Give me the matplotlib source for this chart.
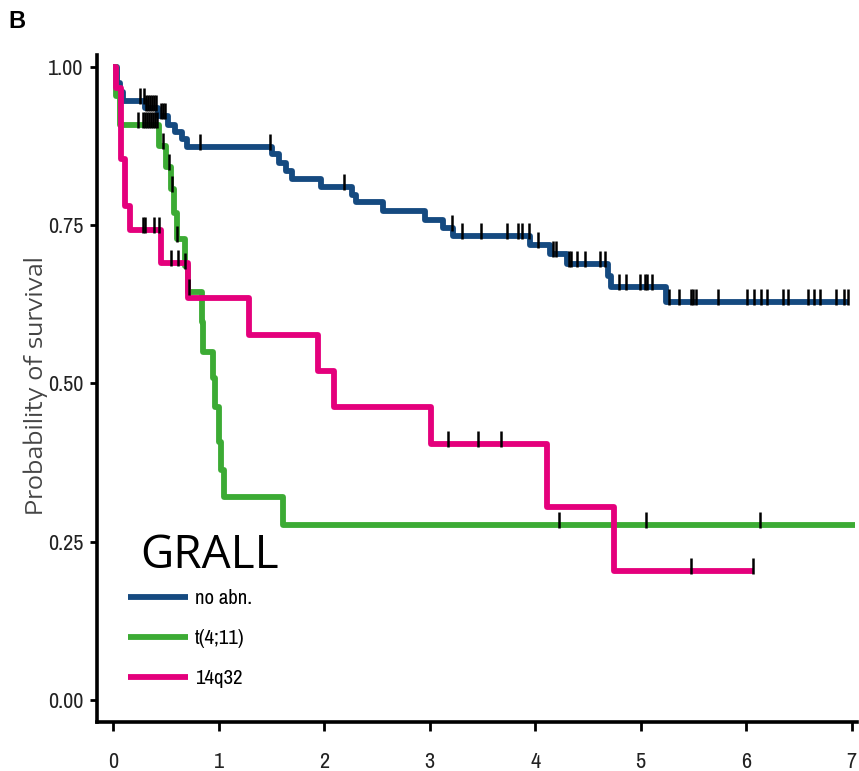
import numpy as np
import matplotlib
matplotlib.use("Agg")
import matplotlib.pyplot as plt
from matplotlib.path import Path

NARROW = ['Archivo Narrow', 'Liberation Sans', 'DejaVu Sans']
plt.rcParams['font.family'] = NARROW

# Kaplan-Meier steps per group: event times (years) and survival after each step
noabn_t = [0, 0.04, 0.07, 0.09, 0.30, 0.43, 0.52, 0.59, 0.65, 0.70, 1.51, 1.57, 1.64, 1.70,
           1.97, 2.26, 2.30, 2.56, 2.96, 3.13, 3.22, 3.95, 4.14, 4.30, 4.69, 4.72, 5.24, 6.97]
noabn_s = [1.0, 0.975, 0.96, 0.946, 0.935, 0.922, 0.908, 0.897, 0.886, 0.874, 0.862, 0.848, 0.836, 0.823,
           0.810, 0.798, 0.786, 0.773, 0.759, 0.746, 0.733, 0.719, 0.705, 0.689, 0.670, 0.652, 0.628, 0.628]
noabn_cens = [0.26, 0.29, 0.31, 0.33, 0.35, 0.37, 0.39, 0.41, 0.45, 0.47, 0.49, 0.82, 1.49, 2.19,
              3.21, 3.31, 3.49, 3.73, 3.84, 3.88, 3.94, 4.03, 4.17, 4.20, 4.32, 4.34, 4.40, 4.47,
              4.61, 4.66, 4.79, 4.86, 4.99, 5.04, 5.06, 5.11, 5.27, 5.36, 5.48, 5.50, 5.52, 5.73,
              6.01, 6.07, 6.14, 6.20, 6.35, 6.40, 6.59, 6.64, 6.70, 6.85, 6.93, 6.96]

t411_t = [0, 0.03, 0.07, 0.44, 0.50, 0.55, 0.58, 0.61, 0.68, 0.71, 0.84, 0.855, 0.95, 0.97,
          1.00, 1.02, 1.05, 1.61, 7.03]
t411_s = [1.0, 0.955, 0.909, 0.875, 0.842, 0.808, 0.770, 0.729, 0.686, 0.644, 0.597, 0.549, 0.508, 0.462,
          0.407, 0.363, 0.320, 0.276, 0.276]
t411_cens = [0.24, 0.28, 0.30, 0.32, 0.34, 0.36, 0.38, 0.40, 0.42, 0.47, 0.53, 0.56, 0.61, 0.68, 0.72,
             4.23, 5.05, 6.13]

q32_t = [0, 0.03, 0.08, 0.11, 0.16, 0.455, 0.71, 1.29, 1.94, 2.09, 3.01, 4.11, 4.75, 6.07]
q32_s = [1.0, 0.967, 0.855, 0.78, 0.743, 0.69, 0.635, 0.577, 0.519, 0.462, 0.405, 0.304, 0.203, 0.203]
q32_cens = [0.28, 0.30, 0.39, 0.44, 0.55, 0.62, 3.17, 3.46, 3.68, 5.48, 6.06]

labels = ['no abn.', 't(4;11)', '14q32']
colors = ['#154a80', '#3cab34', '#e4007c']

x_ticks = [0, 1, 2, 3, 4, 5, 6, 7]
y_ticks = [0.0, 0.25, 0.50, 0.75, 1.00]

# censor mark: short vertical bar sitting mostly above the curve
cens_marker = Path([(0, -0.25), (0, 1.0)], [Path.MOVETO, Path.LINETO])


def surv_at(times, surv, t):
    idx = np.searchsorted(times, t, side='right') - 1
    return np.asarray(surv)[idx]


fig = plt.figure(figsize=(8.59, 7.71), dpi=100)
ax = fig.add_axes([97 / 859, 1 - 722 / 771, (857 - 97) / 859, (722 - 55) / 771])

groups = [(noabn_t, noabn_s, noabn_cens), (t411_t, t411_s, t411_cens), (q32_t, q32_s, q32_cens)]
for (t, s, c), lab, col in zip(groups, labels, colors):
    ax.step(t, s, where='post', color=col, lw=4.2, label=lab, solid_capstyle='butt', zorder=2)
for (t, s, c), col in zip(groups, colors):
    ax.plot(c, surv_at(t, s, c), linestyle='none', marker=cens_marker, markersize=19,
            markeredgewidth=1.8, color='black', zorder=3)

ax.set_xlim(-0.152, 7.05)
ax.set_ylim(-0.035, 1.019)
ax.set_xticks(x_ticks)
ax.set_yticks(y_ticks)
ax.set_yticklabels(['%.2f' % v for v in y_ticks])

for side in ['top', 'right']:
    ax.spines[side].set_visible(False)
for side in ['left', 'bottom']:
    ax.spines[side].set_linewidth(2.6)
    ax.spines[side].set_color('black')

ax.tick_params(axis='y', length=5, width=2, pad=5, labelsize=16, labelcolor='#222222')
ax.tick_params(axis='x', length=6.5, width=2, pad=15, labelsize=16, labelcolor='#222222')

ax.set_ylabel('Probability of survival', fontsize=17, color='#444444',
              family=['Encode Sans Expanded', 'DejaVu Sans'])
ax.yaxis.set_label_coords(-0.064, 0.505)

ax.text(140 / 859, 1 - 556 / 771, 'GRALL', transform=fig.transFigure, family='Open Sans',
        fontsize=33, ha='left', va='center', color='black')

ax.legend(loc='upper left', bbox_to_anchor=(128 / 859, 1 - 589 / 771), bbox_transform=fig.transFigure,
          frameon=False, fontsize=15, handlelength=2.9, handletextpad=0.32, labelspacing=1.02,
          borderpad=0, borderaxespad=0)

fig.text(17 / 859, 1 - 21 / 771, 'B', fontsize=17, fontweight='bold', ha='center', va='center',
         family=['Liberation Sans', 'DejaVu Sans'])

fig.savefig('out.png', dpi=100)
